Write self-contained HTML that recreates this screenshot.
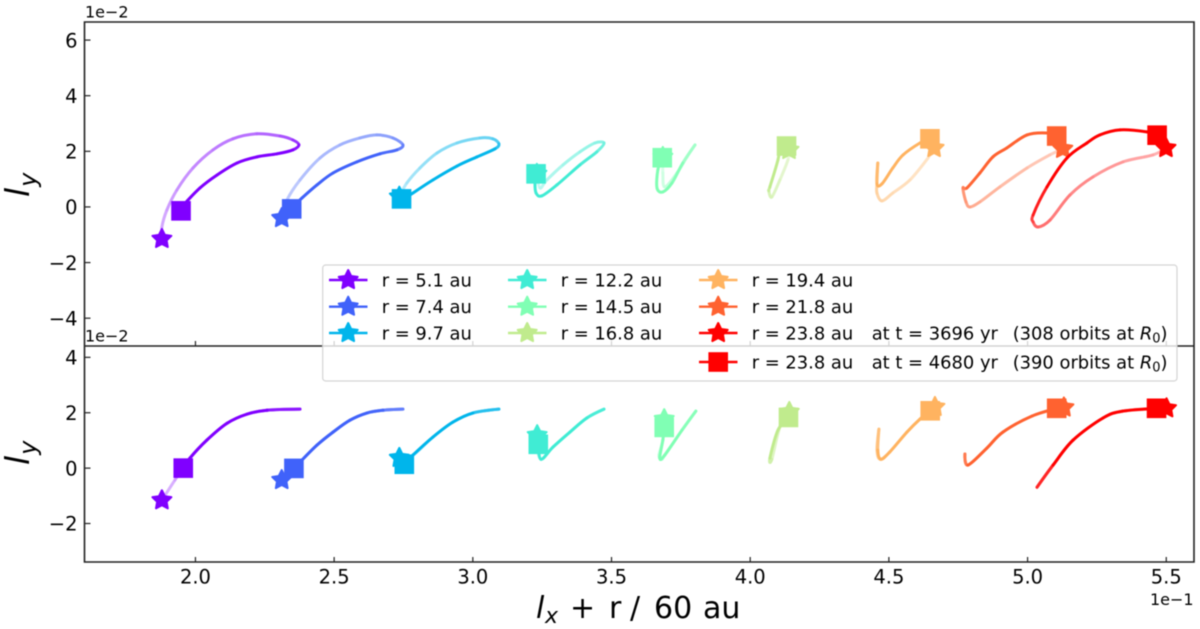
<!DOCTYPE html>
<html>
<head>
<meta charset="utf-8">
<title>Orbit tilt vector chart</title>
<style>
html,body{margin:0;padding:0;background:#fff;width:1200px;height:629px;overflow:hidden}
svg{display:block;filter:blur(0.55px)}
text{font-family:"DejaVu Sans","Liberation Sans",sans-serif;fill:#000}
</style>
</head>
<body>
<svg id="chart" xmlns="http://www.w3.org/2000/svg" width="1200" height="629" viewBox="0 0 1200 629"></svg>
<script>
const radii = [5.1, 7.4, 9.7, 12.2, 14.5, 16.8, 19.4, 21.8, 23.8];
const palette = ['#8000ff', '#4062fa', '#00b5eb', '#40ecd4', '#80ffb4', '#c0eb8d', '#ffb360', '#ff6230', '#ff0000'];
const xTicks = [2.0, 2.5, 3.0, 3.5, 4.0, 4.5, 5.0, 5.5];
const topYTicks = [-4, -2, 0, 2, 4, 6];
const bottomYTicks = [-2, 0, 2, 4];

const topStarX = [1.879, 2.311, 2.735, 3.231, 3.685, 4.140, 4.663, 5.127, 5.499];
const topStarY = [-1.15, -0.40, 0.37, 1.19, 1.80, 2.05, 2.12, 2.09, 2.12];
const topSquareX = [1.948, 2.347, 2.743, 3.228, 3.683, 4.131, 4.648, 5.105, 5.467];
const topSquareY = [-0.14, -0.07, 0.29, 1.19, 1.77, 2.19, 2.45, 2.55, 2.58];
const bottomStarX = [1.879, 2.311, 2.735, 3.232, 3.690, 4.141, 4.666, 5.131, 5.501];
const bottomStarY = [-1.16, -0.43, 0.37, 1.19, 1.77, 2.03, 2.21, 2.19, 2.16];
const bottomSquareX = [1.956, 2.355, 2.753, 3.236, 3.690, 4.138, 4.649, 5.105, 5.465];
const bottomSquareY = [0, -0.01, 0.14, 0.86, 1.47, 1.83, 2.07, 2.16, 2.16];

const topCurveX = [
  [1.879,1.897,1.933,1.991,2.063,2.135,2.222,2.305,2.351,2.373,2.351,2.294,2.222,2.150,2.078,2.016,1.951],
  [2.330,2.377,2.449,2.521,2.593,2.654,2.712,2.748,2.726,2.665,2.582,2.496,2.438,2.384,2.351],
  [2.762,2.809,2.871,2.943,3.026,3.072,3.094,3.080,3.015,2.943,2.856,2.784,2.748],
  [3.242,3.267,3.325,3.386,3.440,3.473,3.447,3.386,3.303,3.249,3.228,3.224],
  [3.685,3.692,3.736,3.772,3.801,3.757,3.718,3.685,3.664,3.667],
  [4.136,4.107,4.078,4.067,4.071,4.100,4.114],
  [4.641,4.576,4.514,4.475,4.457,4.457,4.460,4.457,4.475,4.514,4.551,4.612],
  [5.080,4.998,4.900,4.828,4.792,4.778,4.767,4.781,4.828,4.875,4.925,4.998,5.070],
  [5.452,5.344,5.236,5.153,5.081,5.038,5.020,5.020,5.070,5.142,5.214,5.261,5.333,5.430]
];
const topCurveY = [
  [-0.72,-0.11,0.61,1.40,2.05,2.45,2.63,2.55,2.41,2.23,2.05,1.91,1.80,1.58,1.15,0.68,0],
  [0.25,0.97,1.76,2.23,2.48,2.59,2.48,2.23,2.05,1.91,1.62,1.22,0.79,0.32,0],
  [0.86,1.40,1.94,2.30,2.48,2.45,2.27,2.09,1.80,1.47,0.97,0.50,0.25],
  [0.68,0.97,1.51,1.98,2.30,2.30,1.98,1.51,0.79,0.40,0.50,0.86],
  [1.22,0.72,1.22,1.80,2.23,1.58,0.86,0.54,0.68,1.33],
  [1.69,0.97,0.36,0.58,0.72,1.69,2.45],
  [1.76,0.97,0.50,0.22,0.50,0.86,1.58,0.83,0.83,1.40,1.87,2.30],
  [1.87,1.40,0.72,0.18,0,0.18,0.68,0.68,1.22,1.80,2.12,2.59,2.66],
  [1.87,1.62,1.08,0.43,-0.47,-0.72,-0.54,-0.29,0.72,1.76,2.30,2.59,2.77,2.70]
];
const bottomCurveX = [
  [1.926,1.980,2.041,2.114,2.186,2.258,2.377,2.258,2.186,2.114,2.041,1.980],
  [2.377,2.438,2.496,2.557,2.618,2.676,2.748,2.676,2.618,2.557,2.496,2.438,2.377],
  [2.784,2.856,2.928,3.000,3.094,3.000,2.928,2.856,2.784],
  [3.231,3.246,3.289,3.350,3.411,3.473,3.411,3.350,3.289,3.246],
  [3.685,3.671,3.681,3.692,3.754,3.804,3.754,3.692,3.674,3.685],
  [4.107,4.078,4.071,4.100],
  [4.612,4.565,4.503,4.468,4.457,4.464,4.460,4.471,4.503,4.565,4.612],
  [5.016,4.911,4.853,4.785,4.774,4.785,4.853,4.911,5.016],
  [5.344,5.272,5.164,5.092,5.034,5.092,5.164,5.272,5.344]
];
const bottomCurveY = [
  [-0.43,0.36,1.01,1.62,1.95,2.09,2.13,2.09,1.95,1.62,1.01,0.36],
  [0.22,0.83,1.30,1.73,1.99,2.09,2.13,2.09,1.99,1.73,1.30,0.83,0.22],
  [0.47,1.12,1.66,1.99,2.13,1.99,1.66,1.12,0.47],
  [0.83,0.32,0.76,1.30,1.81,2.13,1.81,1.30,0.76,0.32],
  [1.01,0.47,0.32,0.47,1.37,2.06,1.37,0.47,0.36,1.01],
  [1.48,0.32,0.36,1.37],
  [1.77,1.30,0.58,0.32,0.65,1.41,0.65,0.32,0.58,1.30,1.77],
  [1.88,1.30,0.72,0.11,0.51,0.11,0.72,1.30,1.88],
  [2.06,1.81,1.01,0.11,-0.69,0.11,1.01,1.81,2.06]
];

const legendTimes = ['3696', '4680'];
const legendOrbits = ['308', '390'];

const NS = 'http://www.w3.org/2000/svg';
const svg = document.getElementById('chart');
const L = 84.5, R = 1194, T1 = 22, MID = 346, B2 = 562;
const xMin = 1.6, xMax = 5.6;
const topMin = -5, topMax = 6.65;
const botMin = -3.39, botMax = 4.41;

function xScale(v) { return L + (v - xMin) / (xMax - xMin) * (R - L); }
function yTopScale(v) { return MID - (v - topMin) / (topMax - topMin) * (MID - T1); }
function yBotScale(v) { return B2 - (v - botMin) / (botMax - botMin) * (B2 - MID); }

function el(tag, attrs, parent) {
  const e = document.createElementNS(NS, tag);
  for (const k in attrs) e.setAttribute(k, attrs[k]);
  (parent || svg).appendChild(e);
  return e;
}
function fmtTick(v) { return String(v).replace('-', '\u2212'); }
function mix(hex, a) {
  const n = parseInt(hex.slice(1), 16);
  const c = [(n >> 16) & 255, (n >> 8) & 255, n & 255].map(function (u) {
    return Math.round(255 + (u - 255) * a);
  });
  return 'rgb(' + c.join(',') + ')';
}
function starPath(cx, cy, r) {
  let d = '';
  for (let i = 0; i < 10; i++) {
    const rad = i % 2 ? r * 0.5 : r;
    const ang = -Math.PI / 2 + i * Math.PI / 5;
    d += (i ? 'L' : 'M') + (cx + rad * Math.cos(ang)).toFixed(2) + ' ' + (cy + rad * Math.sin(ang)).toFixed(2);
  }
  return d + 'Z';
}
function drawStar(cx, cy, color, parent) {
  const s = el('path', { d: starPath(cx, cy, 10), fill: color, stroke: color, 'stroke-width': 2, 'stroke-linejoin': 'round' }, parent);
  
  
}
function drawSquare(cx, cy, color, parent) {
  const s = el('rect', { x: cx - 9.8, y: cy - 9.8, width: 19.6, height: 19.6, fill: color }, parent);
  
  
}
function alphaAt(t) {
  if (t < 0.45) return 0.28 + 0.35 * t / 0.45;
  return Math.min(1, 0.63 + (t - 0.45) * 2.2);
}
function drawCurve(xs, ys, color, yScale, parent) {
  const px = xs.map(xScale);
  const py = ys.map(yScale);
  const n = px.length;
  for (let i = 0; i < n - 1; i++) {
    const i0 = Math.max(0, i - 1), i3 = Math.min(n - 1, i + 2);
    const c1x = px[i] + (px[i + 1] - px[i0]) / 6, c1y = py[i] + (py[i + 1] - py[i0]) / 6;
    const c2x = px[i + 1] - (px[i3] - px[i]) / 6, c2y = py[i + 1] - (py[i3] - py[i]) / 6;
    const t = (i + 0.5) / (n - 1);
    el('path', {
      d: 'M' + px[i].toFixed(2) + ' ' + py[i].toFixed(2) + 'C' + c1x.toFixed(2) + ' ' + c1y.toFixed(2) + ' ' + c2x.toFixed(2) + ' ' + c2y.toFixed(2) + ' ' + px[i + 1].toFixed(2) + ' ' + py[i + 1].toFixed(2),
      fill: 'none', stroke: mix(color, alphaAt(t)), 'stroke-width': 3, 'stroke-linecap': 'round'
    }, parent);
  }
}

/* white background */
const bg = el('rect', { x: 0, y: 0, width: 1200, height: 629, fill: '#fff' });



/* series */
function drawPanel(panel, yScale, sx, sy, qx, qy, cx, cy) {
  radii.forEach(function (r, i) {
    const g = el('g', {});
    
    
    const xs = [sx[i]].concat(cx[i], [qx[i]]);
    const ys = [sy[i]].concat(cy[i], [qy[i]]);
    drawCurve(xs, ys, palette[i], yScale, g);
    drawStar(xScale(sx[i]), yScale(sy[i]), palette[i], g);
    drawSquare(xScale(qx[i]), yScale(qy[i]), palette[i], g);
  });
}
drawPanel('top', yTopScale, topStarX, topStarY, topSquareX, topSquareY, topCurveX, topCurveY);
drawPanel('bottom', yBotScale, bottomStarX, bottomStarY, bottomSquareX, bottomSquareY, bottomCurveX, bottomCurveY);

/* axes */
const axes = el('g', { stroke: '#222', 'stroke-width': 1.6, fill: 'none' });


el('path', { d: 'M' + L + ' ' + T1 + 'H' + R + 'V' + B2 + 'H' + L + 'ZM' + L + ' ' + MID + 'H' + R }, axes);

const tickGroup = el('g', { stroke: '#222', 'stroke-width': 1.2 });


const labelGroup = el('g', { 'font-size': '19.5' });



xTicks.forEach(function (v) {
  const x = xScale(v);
  el('line', { x1: x, x2: x, y1: MID, y2: MID - 5 }, tickGroup);
  el('line', { x1: x, x2: x, y1: B2, y2: B2 - 5 }, tickGroup);
  const t = el('text', { x: x, y: 583.5, 'text-anchor': 'middle' }, labelGroup);
  t.textContent = v.toFixed(1);
  
  
});
function yTicks(list, yScale, name) {
  list.forEach(function (v) {
    const y = yScale(v);
    el('line', { x1: L, x2: L + 6, y1: y, y2: y }, tickGroup);
    const t = el('text', { x: 77.5, y: y + 7.2, 'text-anchor': 'end' }, labelGroup);
    t.textContent = fmtTick(v);
    
    
  });
}
yTicks(topYTicks, yTopScale, 'top-y-tick-label');
yTicks(bottomYTicks, yBotScale, 'bottom-y-tick-label');

/* offset text */
function offsetText(x, y, s, name) {
  const t = el('text', { x: x, y: y, 'font-size': '16' });
  t.textContent = s;
  
  
}
offsetText(85, 17.5, '1e\u22122', 'top-y-offset');
offsetText(85, 341.5, '1e\u22122', 'bottom-y-offset');
offsetText(1150, 605, '1e\u22121', 'x-offset');

/* axis titles */
function yTitle(baseY, name) {
  const t = el('text', { transform: 'translate(29,' + baseY + ') rotate(-90)', 'font-size': '33', 'font-style': 'italic' });
  
  
  const a = el('tspan', {}, t);
  a.textContent = 'l';
  const b = el('tspan', { dx: '1', dy: '7', 'font-size': '24' }, t);
  b.textContent = 'y';
}
yTitle(197, 'top-y-axis-title');
yTitle(465, 'bottom-y-axis-title');

const xt = el('text', { y: 618, 'font-size': '30' });


const xtA = el('tspan', { x: 536, 'font-style': 'italic' }, xt);
xtA.textContent = 'l';
const xtB = el('tspan', { x: 545, dy: '5', 'font-style': 'italic', 'font-size': '22' }, xt);
xtB.textContent = 'x';
const xtC = el('tspan', { x: 570, dy: '-5' }, xt);
xtC.textContent = '+';
const xtD = el('tspan', { x: 609 }, xt);
xtD.textContent = 'r';
const xtE = el('tspan', { x: 630 }, xt);
xtE.textContent = '/';
const xtF = el('tspan', { x: 654 }, xt);
xtF.textContent = '60';
const xtG = el('tspan', { x: 703 }, xt);
xtG.textContent = 'au';

/* legend */
const legend = el('g', {});


el('rect', { x: 322.7, y: 265, width: 854.3, height: 116, rx: 3, fill: 'rgba(255,255,255,0.8)', stroke: '#d4d4d4', 'stroke-width': 1.2 }, legend);

const legendColX = [329, 508, 699];
const legendRowY = [280, 306.7, 333, 362];

function legendEntry(col, row, color, isSquare, label, name) {
  const g = el('g', {}, legend);
  
  
  const x0 = legendColX[col], y = legendRowY[row];
  el('line', { x1: x0, x2: x0 + 38.5, y1: y, y2: y, stroke: color, 'stroke-width': 2.4 }, g);
  if (isSquare) drawSquare(x0 + 19.2, y, color, g);
  else drawStar(x0 + 19.2, y, color, g);
  const t = el('text', { x: x0 + 52.7, y: y + 6.3, 'font-size': '17.9' }, g);
  const a = el('tspan', {}, t);
  a.textContent = label;
  return t;
}
function extra(t, time, orbits) {
  const b = el('tspan', { x: 871.7 }, t);
  b.textContent = 'at t = ' + time + ' yr';
  const c = el('tspan', { x: 1012.7 }, t);
  c.textContent = '(' + orbits + ' orbits at ';
  const d = el('tspan', { 'font-style': 'italic' }, t);
  d.textContent = 'R';
  const e = el('tspan', { dy: '3', 'font-size': '13' }, t);
  e.textContent = '0';
  const f = el('tspan', { dy: '-3' }, t);
  f.textContent = ')';
}
radii.forEach(function (r, i) {
  const col = Math.floor(i / 3), row = i % 3;
  const t = legendEntry(col, row, palette[i], false, 'r = ' + r.toFixed(1) + ' au', 'legend-entry-r-' + String(r).replace('.', '-'));
  if (i === radii.length - 1) extra(t, legendTimes[0], legendOrbits[0]);
});
const lastT = legendEntry(2, 3, palette[8], true, 'r = ' + radii[8].toFixed(1) + ' au', 'legend-entry-final-time');
extra(lastT, legendTimes[1], legendOrbits[1]);
</script>
</body>
</html>
